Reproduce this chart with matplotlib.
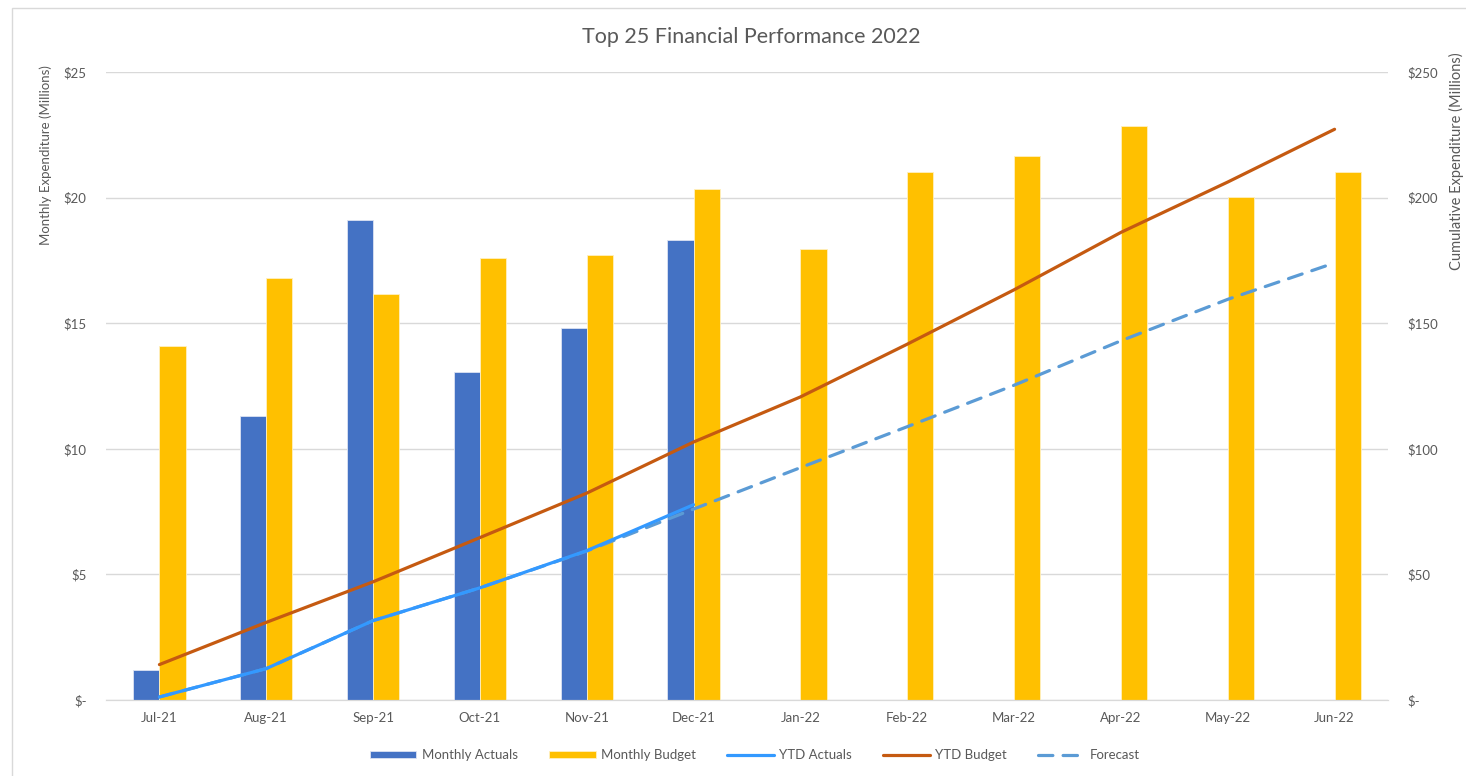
import numpy as np
import matplotlib
matplotlib.use("Agg")
import matplotlib.pyplot as plt
from matplotlib.patches import Rectangle

plt.rcParams['font.family'] = ['Lato', 'DejaVu Sans']

# data (millions)
months = ['Jul-21', 'Aug-21', 'Sep-21', 'Oct-21', 'Nov-21', 'Dec-21',
          'Jan-22', 'Feb-22', 'Mar-22', 'Apr-22', 'May-22', 'Jun-22']
monthly_actuals = [1.2, 11.3, 19.1, 13.05, 14.8, 18.3,
                   np.nan, np.nan, np.nan, np.nan, np.nan, np.nan]
monthly_budget = [14.1, 16.8, 16.15, 17.6, 17.7, 20.35,
                  17.95, 21.0, 21.66, 22.85, 20.02, 21.03]
ytd_actuals = [1.2, 12.5, 31.6, 44.65, 59.45, 77.75,
               np.nan, np.nan, np.nan, np.nan, np.nan, np.nan]
ytd_budget = [14.1, 30.9, 47.05, 64.65, 82.35, 102.7,
              120.65, 141.65, 163.3, 186.15, 206.2, 227.2]
forecast = [1.2, 12.5, 31.6, 44.65, 59.3, 76.0,
            92.5, 108.8, 125.3, 143.0, 159.5, 174.0]
left_ticks = [0, 5, 10, 15, 20, 25]
left_labels = ['$-', '$5', '$10', '$15', '$20', '$25']
right_ticks = [0, 50, 100, 150, 200, 250]
right_labels = ['$-', '$50', '$100', '$150', '$200', '$250']

grey = '#595959'
grid = '#D9D9D9'

fig = plt.figure(figsize=(14.66, 7.76), dpi=100)
ax = fig.add_axes([106 / 1466, 1 - 700 / 776, 1282 / 1466, 628 / 776])
ax2 = ax.twinx()

x = np.arange(len(months))
w = 0.245
b1 = ax.bar(x - w / 2, monthly_actuals, w, color='#4472C4', edgecolor='#DCE3F2',
            linewidth=0.6, label='Monthly Actuals', zorder=2)
b2 = ax.bar(x + w / 2, monthly_budget, w, color='#FFC000', edgecolor='#FFF0C0',
            linewidth=0.6, label='Monthly Budget', zorder=2)

l3, = ax2.plot(x, forecast, color='#5B9BD5', lw=2.3, dashes=(4.5, 3.2),
               dash_capstyle='round', label='Forecast', zorder=3)
l1, = ax2.plot(x, ytd_actuals, color='#3399FF', lw=2.3, solid_capstyle='round',
               label='YTD Actuals', zorder=4)
l2, = ax2.plot(x, ytd_budget, color='#C55A11', lw=2.3, solid_capstyle='round',
               label='YTD Budget', zorder=4)

ax.set_xlim(-0.5, len(months) - 0.5)
ax.set_ylim(0, 25)
ax2.set_ylim(0, 250)
ax.set_yticks(left_ticks)
ax.set_yticklabels(left_labels)
ax2.set_yticks(right_ticks)
ax2.set_yticklabels(right_labels)
ax.set_xticks(x)
ax.set_xticklabels(months)

ax.grid(axis='y', color=grid, lw=1, zorder=0)
ax.set_axisbelow(True)
for a in (ax, ax2):
    for s in ['top', 'left', 'right']:
        a.spines[s].set_visible(False)
    a.spines['bottom'].set_color(grid)
    a.tick_params(length=0, colors=grey, labelsize=9.5)
ax.tick_params(axis='y', pad=14)
ax2.tick_params(axis='y', pad=14)
ax.tick_params(axis='x', pad=9)

ax.set_ylabel('Monthly Expenditure (Millions)', color=grey, fontsize=9.5)
ax.yaxis.set_label_coords((52 - 106) / 1282, (700 - 155) / 628)
ax2.set_ylabel('Cumulative Expenditure (Millions)', color=grey, fontsize=10.5,
               rotation=90)
ax2.yaxis.set_label_coords((1449 - 106) / 1282, (700 - 161) / 628)

fig.text(751 / 1466, 1 - 37 / 776, 'Top 25 Financial Performance 2022',
         ha='center', va='center', fontsize=15.5, color=grey)

fig.legend(handles=[b1, b2, l1, l2, l3], loc='center', ncol=5,
           bbox_to_anchor=(755 / 1466, 1 - 755 / 776), frameon=False,
           fontsize=9.5, labelcolor=grey, handlelength=3.5, handleheight=0.5,
           handletextpad=0.4, columnspacing=2.4)

fig.patches.append(Rectangle((12 / 1466, -0.05), 1.1, 1 - 8 / 776 + 0.05,
                             transform=fig.transFigure, fill=False,
                             edgecolor=grid, lw=1))

fig.savefig('out.png', dpi=100)
